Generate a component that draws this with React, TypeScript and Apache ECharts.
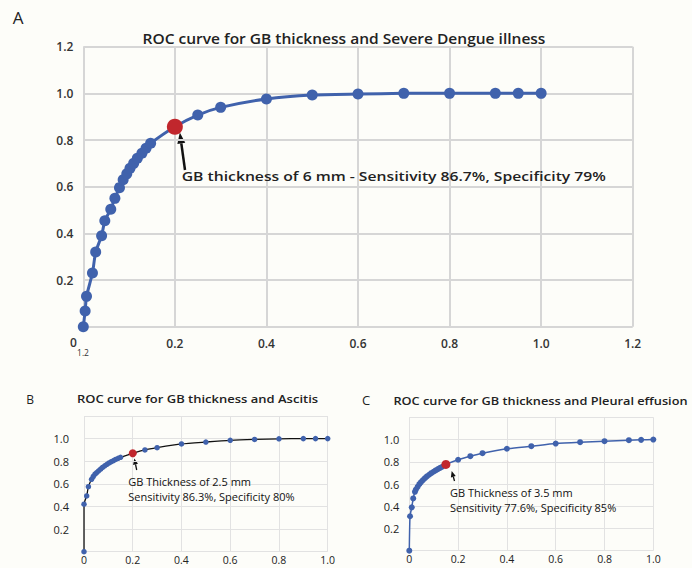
import React, { useEffect, useRef } from "react";
import * as echarts from "echarts";

// Panel A: Severe Dengue illness
const rocA_fpr = [0, 0.004, 0.007, 0.02, 0.027, 0.04, 0.047, 0.06, 0.069, 0.079, 0.087, 0.095, 0.102, 0.11, 0.118, 0.128, 0.137, 0.147, 0.2, 0.25, 0.3, 0.4, 0.5, 0.6, 0.7, 0.8, 0.9, 0.95, 1.0];
const rocA_tpr = [0, 0.067, 0.13, 0.23, 0.32, 0.39, 0.454, 0.503, 0.55, 0.596, 0.63, 0.655, 0.679, 0.7, 0.722, 0.743, 0.765, 0.786, 0.857, 0.907, 0.94, 0.976, 0.993, 0.997, 1.0, 1.0, 1.0, 1.0, 1.0];
const cutA = [0.2, 0.857];

// Panel B: Ascitis
const rocB_fpr = [0, 0, 0.011, 0.018, 0.031, 0.038, 0.045, 0.052, 0.06, 0.068, 0.076, 0.085, 0.094, 0.103, 0.112, 0.121, 0.13, 0.14, 0.15, 0.2, 0.25, 0.3, 0.4, 0.5, 0.6, 0.7, 0.8, 0.9, 0.95, 1.0];
const rocB_tpr = [0, 0.42, 0.493, 0.575, 0.64, 0.665, 0.685, 0.7, 0.715, 0.73, 0.745, 0.76, 0.773, 0.785, 0.796, 0.806, 0.816, 0.826, 0.835, 0.87, 0.9, 0.92, 0.953, 0.97, 0.985, 0.993, 0.998, 1.0, 1.0, 1.0];
const cutB = [0.2, 0.87];

// Panel C: Pleural effusion
const rocC_fpr = [0, 0.003, 0.01, 0.016, 0.023, 0.027, 0.034, 0.041, 0.048, 0.056, 0.064, 0.072, 0.081, 0.09, 0.099, 0.108, 0.117, 0.126, 0.135, 0.15, 0.2, 0.25, 0.3, 0.4, 0.5, 0.6, 0.7, 0.8, 0.9, 0.95, 1.0];
const rocC_tpr = [0, 0.31, 0.39, 0.47, 0.53, 0.55, 0.575, 0.598, 0.617, 0.635, 0.652, 0.668, 0.683, 0.697, 0.71, 0.722, 0.734, 0.745, 0.755, 0.776, 0.818, 0.85, 0.877, 0.917, 0.94, 0.964, 0.976, 0.985, 0.994, 0.997, 1.0];
const cutC = [0.15, 0.776];

const titleA = "ROC curve for GB thickness and Severe Dengue illness";
const titleB = "ROC curve for GB thickness and Ascitis";
const titleC = "ROC curve for GB thickness and Pleural effusion";
const noteA = "GB thickness of 6 mm - Sensitivity 86.7%, Specificity 79%";
const noteB = ["GB Thickness of 2.5 mm", "Sensitivity 86.3%, Specificity 80%"];
const noteC = ["GB Thickness of 3.5 mm", "Sensitivity 77.6%, Specificity 85%"];

const BLUE = "#4062ac";
const RED = "#c1272d";
const FONT = "'Open Sans', 'Noto Sans', sans-serif";

const zip = (xs: number[], ys: number[]) => xs.map((x, i) => [x, ys[i]]);

function arrow(x1: number, y1: number, x2: number, y2: number, w: number, head: number, hw: number) {
  const dx = x2 - x1, dy = y2 - y1;
  const len = Math.hypot(dx, dy);
  const ux = dx / len, uy = dy / len;
  const bx = x2 - ux * head, by = y2 - uy * head;
  const px = -uy, py = ux;
  return [
    { type: "line", shape: { x1, y1, x2: bx, y2: by }, style: { stroke: "#111", lineWidth: w } },
    {
      type: "polygon",
      shape: { points: [[x2, y2], [bx + px * hw, by + py * hw], [bx - px * hw, by - py * hw]] },
      style: { fill: "#111" },
    },
  ];
}

function text(x: number, y: number, t: string, size: number, opts: any = {}) {
  return {
    type: "text",
    x,
    y,
    z: 10,
    scaleX: opts.scaleX ?? 1,
    style: {
      text: t,
      fontSize: size,
      fontFamily: opts.family ?? FONT,
      fontWeight: opts.weight ?? "normal",
      fill: opts.color ?? "#222",
      align: opts.align ?? "left",
      verticalAlign: "middle",
    },
  };
}

export default function App() {
  const ref = useRef<HTMLDivElement>(null);
  useEffect(() => {
    document.body.style.margin = "0";
    const chart = echarts.init(ref.current!, null, { renderer: "svg" });
    const fmt1 = (v: number) => (Math.abs(v) < 1e-9 ? "" : v.toFixed(1));
    const fmt0 = (v: number) => (Math.abs(v) < 1e-9 ? "0" : v > 1.0001 ? "" : v.toFixed(1));
    const fmtY = (v: number) => (Math.abs(v) < 1e-9 || v > 1.0001 ? "" : v.toFixed(1));
    const labelA = { fontSize: 12, color: "#333", fontFamily: FONT, fontWeight: 600 };
    const labelBC = { fontSize: 11, color: "#222", fontFamily: FONT };
    const splitA = { show: true, lineStyle: { color: "#d6d6d6", width: 2 } };
    const splitBC = { show: true, lineStyle: { color: "#e2e2e2", width: 1 } };
    const common = { type: "value", min: 0, interval: 0.2, axisLine: { show: false }, axisTick: { show: false } };

    chart.setOption({
      animation: false,
      backgroundColor: "#fdfdf9",
      grid: [
        { left: 83.3, top: 46.7, width: 549.4, height: 280, outerBoundsMode: "none" },
        { left: 84, top: 416, width: 243.7, height: 135.7, outerBoundsMode: "none" },
        { left: 409.3, top: 417.3, width: 244, height: 133.4, outerBoundsMode: "none" },
      ],
      xAxis: [
        { ...common, gridIndex: 0, max: 1.2, splitLine: splitA, axisLabel: { ...labelA, margin: 11, formatter: fmt1 } },
        { ...common, gridIndex: 1, max: 1.0, splitLine: splitBC, axisLabel: { ...labelBC, fontSize: 10.5, margin: 3, formatter: fmt0 } },
        { ...common, gridIndex: 2, max: 1.0, splitLine: splitBC, axisLabel: { ...labelBC, fontSize: 10.5, margin: 3, formatter: fmt0 } },
      ],
      yAxis: [
        { ...common, gridIndex: 0, max: 1.2, splitLine: splitA, axisLabel: { ...labelA, margin: 10, formatter: fmt1 } },
        { ...common, gridIndex: 1, max: 1.2, splitLine: splitBC, axisLabel: { ...labelBC, margin: 15, formatter: fmtY } },
        { ...common, gridIndex: 2, max: 1.2, splitLine: splitBC, axisLabel: { ...labelBC, margin: 10, formatter: fmtY } },
      ],
      series: [
        {
          type: "line", xAxisIndex: 0, yAxisIndex: 0, data: zip(rocA_fpr, rocA_tpr), smooth: 0.2,
          symbol: "circle", symbolSize: 11, itemStyle: { color: BLUE }, lineStyle: { color: BLUE, width: 3 },
        },
        { type: "scatter", xAxisIndex: 0, yAxisIndex: 0, z: 5, data: [cutA], symbolSize: 16, itemStyle: { color: RED, opacity: 1 } },
        {
          type: "line", xAxisIndex: 1, yAxisIndex: 1, data: zip(rocB_fpr, rocB_tpr), smooth: 0.2,
          symbol: "circle", symbolSize: 5.5, itemStyle: { color: BLUE }, lineStyle: { color: "#111", width: 1.3 },
        },
        { type: "scatter", xAxisIndex: 1, yAxisIndex: 1, z: 5, data: [cutB], symbolSize: 8, itemStyle: { color: RED, opacity: 1 } },
        {
          type: "line", xAxisIndex: 2, yAxisIndex: 2, data: zip(rocC_fpr, rocC_tpr), smooth: 0.2,
          symbol: "circle", symbolSize: 6, itemStyle: { color: BLUE }, lineStyle: { color: BLUE, width: 1.5 },
        },
        { type: "scatter", xAxisIndex: 2, yAxisIndex: 2, z: 5, data: [cutC], symbolSize: 9, itemStyle: { color: RED, opacity: 1 } },
      ],
      graphic: [
        text(18, 17, "A", 17, { align: "center" }),
        text(30, 399, "B", 12, { align: "center" }),
        text(366, 400, "C", 13, { align: "center" }),
        text(344, 38, titleA, 13.5, { align: "center", weight: 600, scaleX: 1.15 }),
        text(197.5, 399, titleB, 11.5, { align: "center", weight: 600, scaleX: 1.13 }),
        text(540.5, 401, titleC, 11.5, { align: "center", weight: 600, scaleX: 1.11 }),
        text(181.7, 176, noteA, 13, { weight: 600, scaleX: 1.21 }),
        text(128.3, 481.5, noteB[0], 11, { color: "#111" }),
        text(128.3, 496.5, noteB[1], 11, { color: "#111" }),
        text(450, 492.5, noteC[0], 11, { color: "#111" }),
        text(450, 507.5, noteC[1], 11, { color: "#111" }),
        text(73.5, 342.5, "0", 12, { align: "center", weight: 600, color: "#333" }),
        text(83, 352, "1.2", 8.5, { align: "center", color: "#333" }),
        ...arrow(185, 170, 179.8, 132.5, 2.5, 11, 4),
        ...arrow(136.7, 470, 134.3, 458.5, 1.3, 6, 2.5),
        ...arrow(454.5, 481, 451.7, 471, 1.3, 6, 2.5),
      ],
    });
    return () => chart.dispose();
  }, []);
  return <div ref={ref} style={{ width: 692, height: 568 }} />;
}
